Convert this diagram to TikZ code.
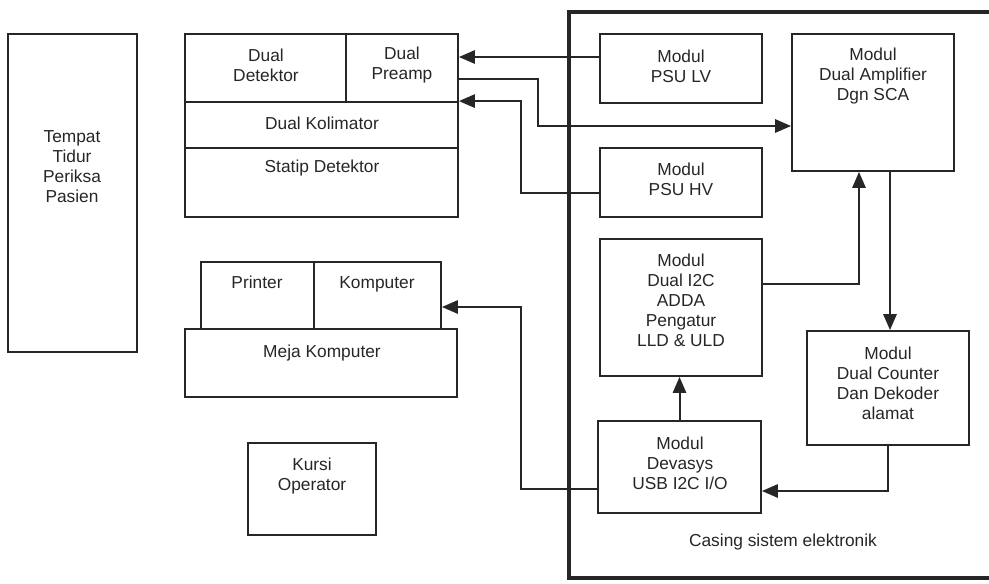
\documentclass[tikz,border=0pt]{standalone}
\usepackage{fontspec}
\setmainfont{Liberation Sans}
\usetikzlibrary{fit,arrows.meta}

\tikzset{
  box/.style={draw, line width=1.4pt, inner sep=0pt},
  txt/.style={align=center, font=\fontsize{13}{15}\selectfont},
  arr/.style={line width=1.5pt, -{Triangle[length=12pt,width=10pt]}},
  wire/.style={line width=1.5pt}
}

\begin{document}
\begin{tikzpicture}[x=0.75pt, y=-0.75pt, color=black!85]
  \useasboundingbox (0,0) rectangle (989,583);
  % ruang pemeriksaan
  \node[box, fit={(8,34) (137,352)}] (bed) {};
  \node[txt] (bedt) at (72,167) {Tempat\\Tidur\\Periksa\\Pasien};
  \node[box, fit={(185,34) (346,102)}] (detektor) {};
  \node[box, fit={(346,34) (458,102)}] (preamp) {};
  \node[box, fit={(185,102) (458,148)}] (kolim) {};
  \node[box, fit={(185,148) (458,217)}] (statip) {};
  \node[txt] (detektort) at (266,65) {Dual\\Detektor};
  \node[txt] (preampt) at (402,65) {Dual\\Preamp};
  \node[txt] (kolimt) at (322,123) {Dual Kolimator};
  \node[txt] (statipt) at (322,168) {Statip Detektor};
  \node[box, fit={(201,262) (314,329)}] (printer) {};
  \node[box, fit={(314,262) (441,329)}] (komp) {};
  \node[box, fit={(185,329) (457,397)}] (meja) {};
  \node[txt] (printert) at (257,282) {Printer};
  \node[txt] (kompt) at (377,284) {Komputer};
  \node[txt] (mejat) at (322,353) {Meja Komputer};
  \node[box, fit={(248,443) (376,535)}] (kursi) {};
  \node[txt] (kursit) at (312,476) {Kursi\\Operator};

  % casing sistem elektronik
  \draw[line width=3pt] (1000,12) -- (569,12) -- (569,578) -- (1000,578);
  \node[txt] (casingt) at (783,542) {Casing sistem elektronik};
  \node[box, fit={(600,34) (762,103)}] (psulv) {};
  \node[txt] (psulvt) at (681,66) {Modul\\PSU LV};
  \node[box, fit={(792,34) (954,171)}] (amp) {};
  \node[txt] (ampt) at (873,76) {Modul\\Dual Amplifier\\Dgn SCA};
  \node[box, fit={(600,148) (762,217)}] (psuhv) {};
  \node[txt] (psuhvt) at (681,179) {Modul\\PSU HV};
  \node[box, fit={(600,239) (762,376)}] (i2c) {};
  \node[txt] (i2ct) at (681,300) {Modul\\Dual I2C\\ADDA\\Pengatur\\LLD \& ULD};
  \node[box, fit={(807,331) (969,445)}] (counter) {};
  \node[txt] (countert) at (888,383) {Modul\\Dual Counter\\Dan Dekoder\\alamat};
  \node[box, fit={(598,421) (761,513)}] (dev) {};
  \node[txt] (devt) at (680,463) {Modul\\Devasys\\USB I2C I/O};

  % sambungan
  \draw[arr] (psulv.west |- 0,57) -- (preamp.east |- 0,57);
  \draw[arr] (preamp.east |- 0,79) -- (538,79) |- (amp.west |- 0,126);
  \draw[arr] (psuhv.west |- 0,193) -- (521,193) |- (kolim.north east);
  \draw[arr] (i2c.east |- 0,284) -| (859,0 |- amp.south);
  \draw[arr] (890,0 |- amp.south) -- (890,0 |- counter.north);
  \draw[arr] (dev.north) -- (dev.north |- i2c.south);
  \draw[arr] (counter.south) |- (dev.east |- 0,491);
  \draw[arr] (dev.west |- 0,489) -- (521,489) |- (komp.east |- 0,307);
\end{tikzpicture}
\end{document}
